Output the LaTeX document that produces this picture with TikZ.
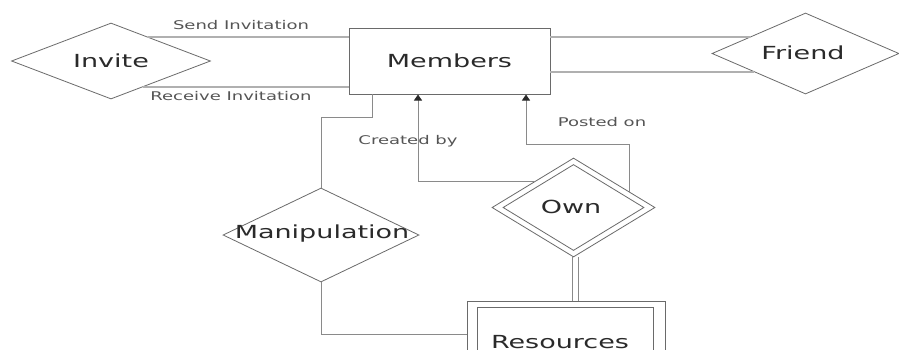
\documentclass[tikz,border=0pt]{standalone}
\usepackage{fontspec}
\newfontfamily\erfont[FakeStretch=1.5]{DejaVu Sans}
\usetikzlibrary{shapes.geometric,arrows.meta,calc}
\definecolor{linegray}{HTML}{8A8A8A}
\definecolor{lightline}{HTML}{B0B0B0}
\definecolor{boxgray}{HTML}{6A6A6A}
\definecolor{txtdark}{HTML}{2A2A2A}
\definecolor{txtlabel}{HTML}{555555}
\begin{document}
\begin{tikzpicture}[x=1pt,y=-1pt,
  bigtext/.style={font=\erfont\fontsize{18}{20}\selectfont, text=txtdark, inner sep=0pt},
  smalltext/.style={font=\erfont\fontsize{12}{14}\selectfont, text=txtlabel, inner sep=0pt},
  relshape/.style={diamond, draw=boxgray, line width=0.8pt, inner sep=0pt, aspect=2},
  entbox/.style={rectangle, draw=boxgray, line width=0.9pt, inner sep=0pt},
  conn/.style={draw=linegray, line width=0.9pt},
  lconn/.style={draw=lightline, line width=1.2pt},
  arr/.style={conn, -{Triangle[width=8pt,length=6pt,fill=txtdark,color=txtdark]}}
]
\useasboundingbox (0,0) rectangle (899,349);
\clip (0,0) rectangle (899,349);
\fill[white] (0,0) rectangle (899,349);

% entities
\node[entbox, minimum width=201pt, minimum height=66pt] (mem) at (449.5,61) {};
\node[bigtext] (memt) at (mem.center) {Members};

\draw[boxgray, line width=0.9pt] (467,420) |- (665,301) -- (665,420);
\node[entbox, minimum width=176pt, minimum height=110pt, anchor=north west] (res) at (477,307) {};
\node[bigtext, anchor=base] (rest) at (560,348) {Resources};

% relationships
\node[relshape, minimum width=199pt, minimum height=76pt] (inv) at (111,61) {};
\node[bigtext] (invt) at (inv.center) {Invite};

\node[relshape, minimum width=187pt, minimum height=81pt] (fri) at (805.5,53.5) {};
\node[bigtext] (frit) at (803,53) {Friend};

\node[relshape, minimum width=196pt, minimum height=94pt] (man) at (321,235) {};
\node[bigtext] (mant) at (322,234) {Manipulation};

\node[relshape, minimum width=163pt, minimum height=99pt] (own) at (573.5,207.5) {};
\node[relshape, minimum width=141pt, minimum height=86pt] (owni) at (573.5,207.5) {};
\node[bigtext] (ownt) at (571,207) {Own};

% coordinates on borders
\coordinate (s1) at (148,37);
\coordinate (r1) at (143,87);
\coordinate (f1) at (750,37);
\coordinate (f2) at (754,72);
\coordinate (cb) at (536,181);
\coordinate (po) at (629,192);

% Invite -- Members
\draw[lconn] (s1) -- (mem.west |- s1);
\draw[lconn] (r1) -- (mem.west |- r1);
% Members -- Friend
\draw[lconn] (mem.east |- f1) -- (f1);
\draw[lconn] (mem.east |- f2) -- (f2);

% Members -- Manipulation
\draw[conn] ($(mem.south west)+(24,0)$) -- ++(0,23) -| (man.north);
% Manipulation -- Resources
\draw[conn] (man.south) |- (467,334);

% Own -- Members (Created by / Posted on)
\draw[arr] (cb) -- (418,181) -- (418,94.5);
\draw[arr] (po) -- (629,144) -- (526,144) -- (526,94.5);

% Own == Resources
\draw[linegray, line width=0.9pt] (572.5,257) -- (572.5,301);
\draw[linegray, line width=0.9pt] (578,257) -- (578,301);

% labels
\node[smalltext] (lsend) at (241,25) {Send Invitation};
\node[smalltext] (lrecv) at (231,96) {Receive Invitation};
\node[smalltext] (lcre) at (408,141) {Created by};
\node[smalltext] (lpos) at (602,122) {Posted on};
\end{tikzpicture}
\end{document}
